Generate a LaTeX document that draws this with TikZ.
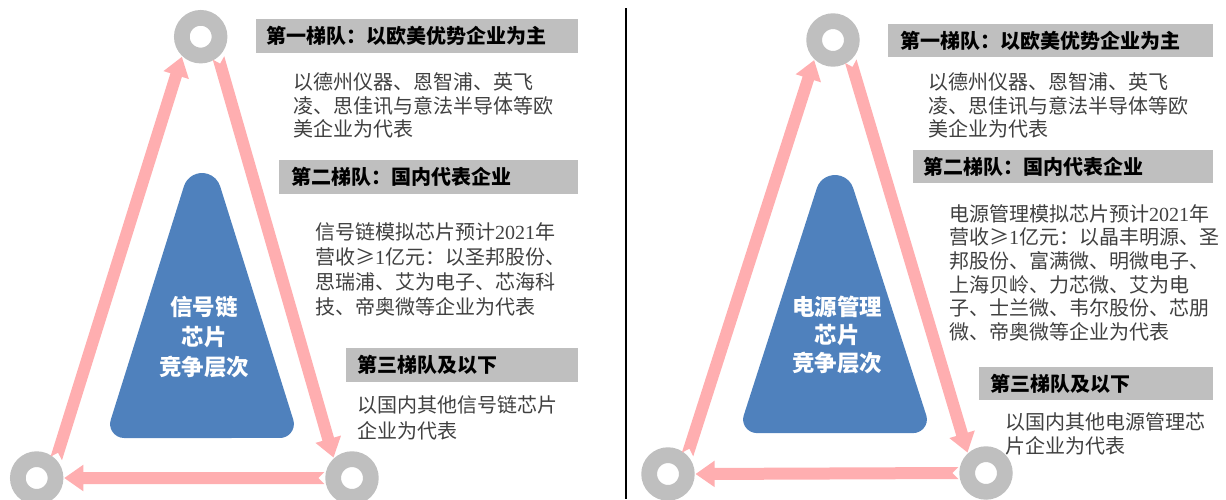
\documentclass[tikz,border=0pt]{standalone}
\usepackage{fontspec}
\setmainfont{Noto Sans CJK SC}
\newfontfamily\lsf{Liberation Serif}
\usetikzlibrary{calc}
\definecolor{ringgray}{HTML}{BFBFBF}
\definecolor{hgray}{HTML}{BFBFBF}
\definecolor{apink}{RGB}{255,174,176}
\definecolor{tblue}{HTML}{4F81BD}
\definecolor{btext}{HTML}{404040}
\newcommand\pinkarrow[2]{%
  \coordinate (paB) at ($#2!19pt!#1$);
  \fill[apink] ($#1!6pt!90:#2$) -- ($#1!6pt!#2$) -- ($#1!6pt!-90:#2$)
    -- ($(paB)!6pt!-90:#2$) -- ($(paB)!13.3pt!-90:#2$) -- #2
    -- ($(paB)!13.3pt!90:#2$) -- ($(paB)!6pt!90:#2$) -- cycle;}
\newcommand\blueshape{%
  \fill[tblue] (-18.1,13.3) arc[start angle=197.5,end angle=342.5,radius=19]
    -- (91.3,246.8) arc[start angle=-17.4,end angle=90,radius=14]
    -- (-77.9,265) arc[start angle=90,end angle=197.4,radius=14] -- cycle;}
\tikzset{
  ring/.style={circle,draw=ringgray,line width=15.7pt,fill=white,minimum size=37.7pt,inner sep=0pt,outer sep=8.8pt},
  hbox/.style={fill=hgray,anchor=north west,minimum height=34pt,inner ysep=0pt,align=left,
    font=\fontsize{20}{24}\selectfont\bfseries,text=black},
  body/.style={anchor=north west,inner sep=0pt,align=left,text=btext},
  core/.style={align=center,text=white,font=\fontsize{22.5}{30}\selectfont\bfseries}
}
\begin{document}
\begin{tikzpicture}[x=1pt,y=-1pt]
\useasboundingbox (0,0) rectangle (1226,499);
% ---------- left panel ----------
\begin{scope}[shift={(202,173)}]\blueshape\end{scope}
\node[core] (lcore) at (204,337) {信号链\\芯片\\竞争层次};
\node[ring] (ltop) at (200.7,36.7) {};
\node[ring] (lbl) at (36.7,478) {};
\node[ring] (lbr) at (352,478) {};
\pinkarrow{(lbl.45)}{(ltop.227)}
\pinkarrow{(ltop.310)}{(lbr.132)}
\pinkarrow{(lbr.180)}{(lbl.0)}
\node[hbox,inner xsep=10pt,text width=302pt] (lh1) at (256,19) {第一梯队：以欧美优势企业为主};
\node[body,font=\fontsize{20}{23.6}\selectfont] (lt1) at (293,72.5) {以德州仪器、恩智浦、英飞\\凌、思佳讯与意法半导体等欧\\美企业为代表};
\node[hbox,inner xsep=12pt,text width=275pt] (lh2) at (279,160) {第二梯队：国内代表企业};
\node[body,font=\fontsize{20}{25}\selectfont] (lt2) at (315,222.5) {信号链模拟芯片预计{\lsf 2021}年\\营收≥{\lsf 1}亿元：以圣邦股份、\\思瑞浦、艾为电子、芯海科\\技、帝奥微等企业为代表};
\node[hbox,inner xsep=11pt,text width=210pt] (lh3) at (346,348) {第三梯队及以下};
\node[body,font=\fontsize{20}{26}\selectfont] (lt3) at (357,395) {以国内其他信号链芯片\\企业为代表};
% ---------- divider ----------
\draw[line width=1.2pt] (626,8) -- (626,499);
% ---------- right panel ----------
\begin{scope}[shift={(835,175)},yscale=0.974]\blueshape\end{scope}
\node[core,font=\fontsize{22.5}{28}\selectfont\bfseries] (rcore) at (837,335) {电源管理\\芯片\\竞争层次};
\node[ring] (rtop) at (833,40) {};
\node[ring] (rbl) at (668,474) {};
\node[ring] (rbr) at (986,473) {};
\pinkarrow{(rbl.45)}{(rtop.227)}
\pinkarrow{(rtop.310)}{(rbr.132)}
\pinkarrow{(rbr.180)}{(rbl.0)}
\node[hbox,inner xsep=12pt,text width=301pt,minimum height=33pt] (rh1) at (888,24) {第一梯队：以欧美优势企业为主};
\node[body,font=\fontsize{20}{23.6}\selectfont] (rt1) at (928,72.5) {以德州仪器、恩智浦、英飞\\凌、思佳讯与意法半导体等欧\\美企业为代表};
\node[hbox,inner xsep=10pt,text width=280pt,minimum height=33pt] (rh2) at (913,150) {第二梯队：国内代表企业};
\node[body,font=\fontsize{20}{23.7}\selectfont] (rt2) at (949,204) {电源管理模拟芯片预计{\lsf 2021}年\\营收≥{\lsf 1}亿元：以晶丰明源、圣\\邦股份、富满微、明微电子、\\上海贝岭、力芯微、艾为电\\子、士兰微、韦尔股份、芯朋\\微、帝奥微等企业为代表};
\node[hbox,inner xsep=11pt,text width=212pt,minimum height=33pt] (rh3) at (979,367) {第三梯队及以下};
\node[body,font=\fontsize{20}{24}\selectfont] (rt3) at (1005,412) {以国内其他电源管理芯\\片企业为代表};
\end{tikzpicture}
\end{document}
